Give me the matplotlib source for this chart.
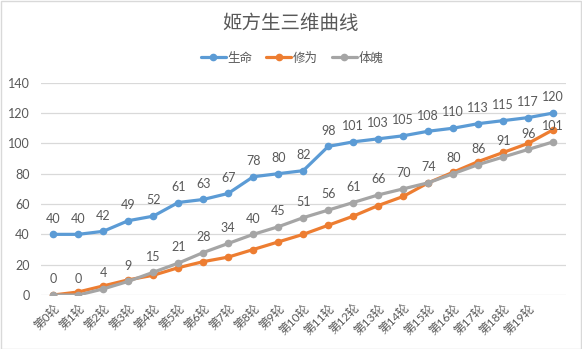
import numpy as np
import matplotlib
matplotlib.use('Agg')
import matplotlib.pyplot as plt
from matplotlib.patches import Rectangle

plt.rcParams['font.family'] = ['Lato', 'Noto Sans CJK SC', 'DejaVu Sans']

TEXT = '#595959'
GRID = '#D9D9D9'

rounds = ['第%d轮' % i for i in range(20)] + ['']
life = [40, 40, 42, 49, 52, 61, 63, 67, 78, 80, 82, 98, 101, 103, 105, 108, 110, 113, 115, 117, 120]
cult = [0, 2, 6, 10, 13, 18, 22, 25, 30, 35, 40, 46, 52, 59, 65, 74, 81, 88, 94, 100, 109]
body = [0, 0, 4, 9, 15, 21, 28, 34, 40, 45, 51, 56, 61, 66, 70, 74, 80, 86, 91, 96, 101]

series = [
    ('生命', life, '#5B9BD5'),
    ('修为', cult, '#ED7D31'),
    ('体魄', body, '#A5A5A5'),
]

fig = plt.figure(figsize=(5.82, 3.49), dpi=100)
ax = fig.add_axes([0.070, 0.1547, 0.902, 0.6083])
fig.patches.append(Rectangle((0.001, 0.001), 0.997, 0.997, transform=fig.transFigure,
                             fill=False, edgecolor=GRID, linewidth=1))

x = np.arange(len(rounds))
for name, vals, col in series:
    ax.plot(x, vals, color=col, lw=2.3, marker='o', ms=4.5, label=name,
            solid_capstyle='round')

# value labels for 生命 and 体魄
for vals in (life, body):
    for xi, v in zip(x, vals):
        ax.annotate(str(v), (xi, v), xytext=(0, 7), textcoords='offset points',
                    ha='center', va='bottom', fontsize=9, color=TEXT)

ax.set_xlim(-0.5, len(rounds) - 0.5)
ax.set_ylim(0, 140)
ax.set_yticks(range(0, 141, 20))
ax.set_xticks(x)
ax.set_xticklabels(rounds, rotation=45, ha='right', rotation_mode='anchor')
ax.tick_params(axis='both', length=0, colors=TEXT)
ax.tick_params(axis='y', pad=8, labelsize=9)
ax.tick_params(axis='x', pad=5, labelsize=8.5)
ax.grid(axis='y', color=GRID, lw=0.9)
ax.set_axisbelow(True)
for s in ax.spines.values():
    s.set_visible(False)

fig.text(0.5, 0.935, '姬方生三维曲线', ha='center', va='center', fontsize=14, color=TEXT)
fig.legend(loc='center', bbox_to_anchor=(0.502, 0.835), ncol=3, frameon=False,
           fontsize=9, labelcolor=TEXT, handlelength=2.0, handletextpad=0.15,
           columnspacing=1.1)

fig.savefig('out.png', dpi=100)
